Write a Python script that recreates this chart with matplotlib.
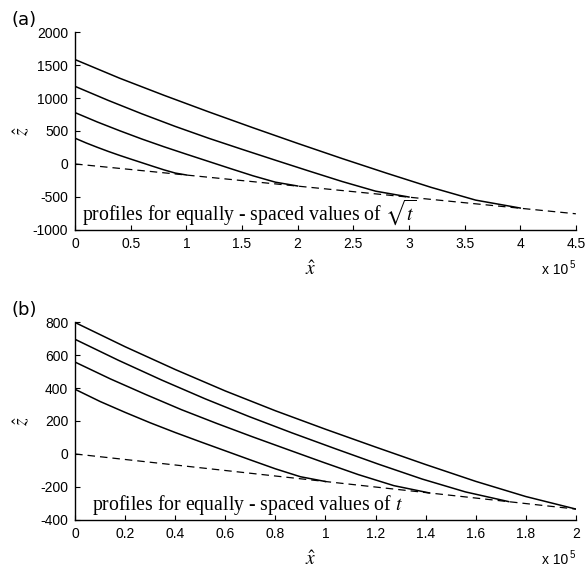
import matplotlib
matplotlib.use("Agg")
import matplotlib.pyplot as plt
from matplotlib.ticker import FuncFormatter

plt.rcParams['axes.unicode_minus'] = False
plt.rcParams['mathtext.fontset'] = 'stix'
plt.rcParams['font.family'] = 'Liberation Sans'

# x values in units of 1e5, z in model units

# (a) profiles for equally spaced values of sqrt(t)
xa1 = [0, 0.1, 0.2, 0.3, 0.4, 0.5, 0.6, 0.7, 0.8, 0.9, 1.0]
za1 = [390, 318, 252, 189, 130, 74, 19, -36, -90, -138, -167]
xa2 = [0, 0.2, 0.4, 0.6, 0.8, 1.0, 1.2, 1.4, 1.6, 1.8, 2.0]
za2 = [778, 636, 504, 378, 260, 148, 38, -72, -180, -276, -334]
xa3 = [0, 0.3, 0.6, 0.9, 1.2, 1.5, 1.8, 2.1, 2.4, 2.7, 3.0]
za3 = [1176, 962, 760, 569, 390, 222, 57, -106, -266, -412, -501]
xa4 = [0, 0.4, 0.8, 1.2, 1.6, 2.0, 2.4, 2.8, 3.2, 3.6, 4.0]
za4 = [1582, 1300, 1040, 790, 548, 312, 82, -140, -355, -548, -668]
base_xa = [0, 4.5]
base_za = [0, -755]

# (b) profiles for equally spaced values of t
xb1 = [0, 0.1, 0.2, 0.3, 0.4, 0.5, 0.6, 0.7, 0.8, 0.9, 1.0]
zb1 = [392, 318, 252, 189, 130, 74, 19, -36, -90, -138, -167]
xb2 = [0, 0.141, 0.283, 0.424, 0.566, 0.707, 0.849, 0.99, 1.131, 1.273, 1.414]
zb2 = [557, 455, 360, 269, 185, 105, 27, -50, -125, -192, -236]
xb3 = [0, 0.173, 0.346, 0.52, 0.693, 0.866, 1.039, 1.212, 1.386, 1.559, 1.732]
zb3 = [695, 568, 448, 334, 228, 128, 32, -62, -152, -230, -289]
xb4 = [0, 0.2, 0.4, 0.6, 0.8, 1.0, 1.2, 1.4, 1.6, 1.8, 2.0]
zb4 = [797, 650, 512, 382, 262, 150, 42, -64, -166, -258, -334]
base_xb = [0, 2.0]
base_zb = [0, -334]

fig = plt.figure(figsize=(5.87, 5.72), dpi=100)
ax_a = fig.add_axes([0.128, 0.598, 0.853, 0.346])
ax_b = fig.add_axes([0.128, 0.091, 0.853, 0.346])

fmt = FuncFormatter(lambda v, p: '%g' % v)
dash = (0, (6, 4))


def style(ax):
    for s in ['top', 'right']:
        ax.spines[s].set_visible(False)
    for s in ['left', 'bottom']:
        ax.spines[s].set_linewidth(1.0)
    ax.tick_params(direction='in', length=3.5, width=0.8, labelsize=10, pad=5)
    ax.xaxis.set_major_formatter(fmt)
    ax.yaxis.set_major_formatter(fmt)


# panel (a)
for xs, zs in [(xa1, za1), (xa2, za2), (xa3, za3), (xa4, za4)]:
    ax_a.plot(xs, zs, color='black', lw=1.1)
ax_a.plot(base_xa, base_za, color='black', lw=0.9, linestyle=dash)
ax_a.set_xlim(0, 4.5)
ax_a.set_ylim(-1000, 2000)
ax_a.set_xticks([0, 0.5, 1, 1.5, 2, 2.5, 3, 3.5, 4, 4.5])
ax_a.set_yticks([-1000, -500, 0, 500, 1000, 1500, 2000])
style(ax_a)
ax_a.text(0.014, 0.05, r'profiles for equally - spaced values of $\sqrt{t}$',
          transform=ax_a.transAxes, family='Liberation Serif', fontsize=14.2,
          va='baseline')

# panel (b)
for xs, zs in [(xb1, zb1), (xb2, zb2), (xb3, zb3), (xb4, zb4)]:
    ax_b.plot(xs, zs, color='black', lw=1.1)
ax_b.plot(base_xb, base_zb, color='black', lw=0.9, linestyle=dash)
ax_b.set_xlim(0, 2)
ax_b.set_ylim(-400, 800)
ax_b.set_xticks([0, 0.2, 0.4, 0.6, 0.8, 1, 1.2, 1.4, 1.6, 1.8, 2])
ax_b.set_yticks([-400, -200, 0, 200, 400, 600, 800])
style(ax_b)
ax_b.text(0.034, 0.05, r'profiles for equally - spaced values of $t$',
          transform=ax_b.transAxes, family='Liberation Serif', fontsize=14.2,
          va='baseline')

for ax, lab in [(ax_a, '(a)'), (ax_b, '(b)')]:
    ax.text(-0.128, 1.06, lab, transform=ax.transAxes, fontsize=13,
            family='DejaVu Sans', va='center', ha='left')
    ax.text(-0.105, 0.5, r'$\hat{z}$', transform=ax.transAxes, fontsize=14,
            rotation=90, ha='center', va='center')
    ax.text(0.471, -0.2, r'$\hat{x}$', transform=ax.transAxes, fontsize=14,
            ha='center', va='center')
    ax.text(0.985, -0.2, 'x 10', transform=ax.transAxes, fontsize=10,
            ha='right', va='center')
    ax.text(0.987, -0.175, '5', transform=ax.transAxes, fontsize=7,
            ha='left', va='center')

fig.savefig('out.png', dpi=100)
